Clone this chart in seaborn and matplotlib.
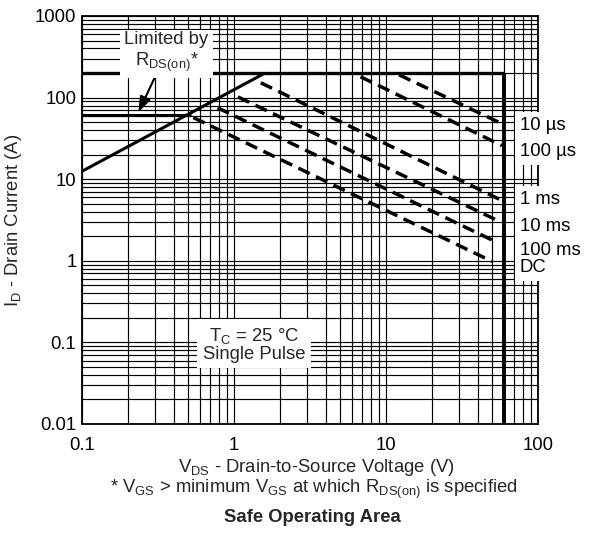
import matplotlib
matplotlib.use('Agg')
import matplotlib.pyplot as plt
import seaborn as sns
import pandas as pd
import numpy as np

sns.set_style('white')
plt.rcParams['font.family'] = ['Liberation Sans', 'DejaVu Sans']
plt.rcParams['mathtext.default'] = 'regular'

# limit lines (V in volts, I in amps)
rds_v = [0.1, 1.6]
rds_i = [12.5, 200]
pkg_v = [0.1, 0.52]
pkg_i = [62, 62]
imax_v = [0.1, 60]
imax_i = [200, 200]
vmax_v = [60, 60]
vmax_i = [200, 0.01]

# pulse-width lines
pulse_labels = ['10 µs', '100 µs', '1 ms', '10 ms', '100 ms', 'DC']
v_start = [12.2, 6.8, 1.50, 1.06, 0.78, 0.54]
i_start = [190, 180, 152, 102, 75, 57]
v_end = [58, 58, 58, 56, 52, 50]
i_end = [47.8, 25.8, 5.47, 3.03, 1.73, 0.98]
label_i = [46, 21.7, 5.6, 2.63, 1.33, 0.83]

x_ticks = [0.1, 1, 10, 100]
x_labels = ['0.1', '1', '10', '100']
y_ticks = [0.01, 0.1, 1, 10, 100, 1000]
y_labels = ['0.01', '0.1', '1', '10', '100', '1000']

FS = 13.3

fig = plt.figure(figsize=(5.94, 5.35), dpi=100)
ax = fig.add_axes([82/594, 1 - 424/535, 456/594, 408/535])
ax.set_xscale('log')
ax.set_yscale('log')


def seg(v, i, **kw):
    df = pd.DataFrame({'V': v, 'I': i})
    sns.lineplot(data=df, x='V', y='I', ax=ax, color='black', sort=False,
                 estimator=None, solid_capstyle='butt', **kw)


seg(rds_v, rds_i, lw=2.2)
seg(pkg_v, pkg_i, lw=2.2)
seg(imax_v, imax_i, lw=2.4)
seg(vmax_v, vmax_i, lw=2.8)

for k in range(len(pulse_labels)):
    seg([v_start[k], v_end[k]], [i_start[k], i_end[k]], lw=2.5,
        linestyle=(0, (3.6, 2.0)), dash_capstyle='butt')
    # white box first, text on top afterwards so neighbouring boxes never clip text
    ax.text(76, label_i[k], pulse_labels[k], fontsize=FS, ha='left', va='center',
            clip_on=False, zorder=5, color='white',
            bbox=dict(facecolor='white', edgecolor='none', pad=3.5))
    ax.text(76, label_i[k], pulse_labels[k], fontsize=FS, ha='left', va='center',
            clip_on=False, zorder=6, color='black')

ax.set_xlim(0.1, 100)
ax.set_ylim(0.01, 1000)
ax.set_xticks(x_ticks)
ax.set_xticklabels(x_labels)
ax.set_yticks(y_ticks)
ax.set_yticklabels(y_labels)
ax.tick_params(which='both', length=0, labelsize=FS, colors='black')
ax.tick_params(axis='x', pad=9)
ax.tick_params(axis='y', pad=4)
ax.grid(True, which='both', color='black', lw=0.85)
for s in ax.spines.values():
    s.set_color('black')
    s.set_linewidth(1.3)
ax.set_xlabel('')
ax.set_ylabel(r'I$_{D}$ - Drain Current (A)', fontsize=FS, labelpad=8)

ax.annotate('Limited by\nR$_{DS(on)}$*', xy=(0.235, 66), xytext=(0.36, 360),
            fontsize=FS, ha='center', va='center', zorder=5,
            bbox=dict(facecolor='white', edgecolor='none', pad=3),
            arrowprops=dict(arrowstyle='-|>,head_length=0.7,head_width=0.25',
                            color='black', lw=1.5, shrinkA=0, shrinkB=0))

ax.text(1.35, 0.095, 'T$_{C}$ = 25 °C\nSingle Pulse', fontsize=FS, ha='center',
        va='center', zorder=5, linespacing=1.0,
        bbox=dict(facecolor='white', edgecolor='none', pad=4))

fig.text(316/594, 1 - 467/535, 'V$_{DS}$ - Drain-to-Source Voltage (V)',
         fontsize=FS, ha='center', va='center')
fig.text(314/594, 1 - 489/535,
         '* V$_{GS}$ > minimum V$_{GS}$ at which R$_{DS(on)}$ is specified',
         fontsize=FS, ha='center', va='center')
fig.text(312/594, 1 - 518/535, 'Safe Operating Area', fontsize=FS,
         fontweight='bold', ha='center', va='center')

fig.savefig('out.png', dpi=100)
